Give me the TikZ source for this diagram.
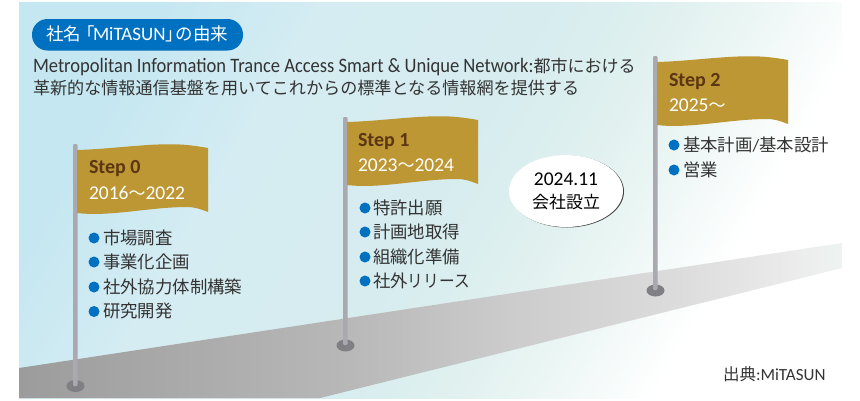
\documentclass[tikz,border=0pt]{standalone}
\usepackage{fontspec}
\usepackage{graphicx}
\usetikzlibrary{shapes.geometric}
\setmainfont{Carlito}
\newfontfamily\lat{Carlito}
\newfontfamily\jp{Noto Sans CJK JP}
\definecolor{brandblue}{HTML}{0070C0}
\definecolor{flaggold}{HTML}{BD9734}
\definecolor{flagbrown}{HTML}{5C3512}
\definecolor{polegrey}{HTML}{A9A9AF}
\definecolor{basegrey}{HTML}{808084}
\definecolor{inktext}{HTML}{333333}
\definecolor{skyA}{HTML}{C5E7F1}
\definecolor{skyB}{HTML}{D5ECF2}
\definecolor{skyC}{HTML}{D6ECEF}
\definecolor{skyD}{HTML}{DFF0EF}
\definecolor{skyE}{HTML}{EBF6F4}
\definecolor{roadA}{HTML}{9C9C9C}
\definecolor{roadB}{HTML}{B8B8B8}
\definecolor{roadC}{HTML}{CCCCCC}
\definecolor{roadD}{HTML}{DCDCDC}
\definecolor{roadE}{HTML}{EBEBEB}
\definecolor{roadF}{HTML}{EEF3F1}
\pgfdeclarehorizontalshading{skyfade}{100bp}{
  color(0bp)=(skyA); color(25bp)=(skyA);
  color(36bp)=(skyB); color(50bp)=(skyC);
  color(58bp)=(skyD); color(64bp)=(skyE);
  color(72bp)=(white); color(100bp)=(white)}
\pgfdeclarehorizontalshading{roadfade}{100bp}{
  color(0bp)=(roadA); color(25bp)=(roadA);
  color(45bp)=(roadB); color(55bp)=(roadC);
  color(65bp)=(roadD); color(72bp)=(roadE);
  color(75bp)=(roadF); color(100bp)=(roadF)}
\tikzset{
  x=1pt,y=-1pt,
  txt/.style={anchor=base west,inner sep=0pt,outer sep=0pt,font=\fontsize{20.5}{22}\selectfont,text=inktext},
  itemtxt/.style={txt,font=\fontsize{17.4}{20}\selectfont\jp},
  steptxt/.style={txt,font=\fontsize{20}{22}\selectfont\bfseries,text=flagbrown},
  yeartxt/.style={txt,font=\fontsize{19.5}{22}\selectfont,text=white},
  bullet/.style={circle,fill=brandblue,minimum size=11pt,inner sep=0pt},
  pole/.style={fill=polegrey,rounded corners=1.2pt},
  polebase/.style={ellipse,fill=basegrey,minimum width=18pt,minimum height=12pt,inner sep=0pt},
  pics/wavyflag/.style={code={
    \fill[flaggold] (77,150) .. controls (115,149) and (155,142) .. (187,145)
      .. controls (196,146) and (203,147) .. (208,148) -- (208,212)
      .. controls (200,209) and (195,207) .. (187,207)
      .. controls (150,207) and (110,217) .. (77,213) -- cycle;
  }}
}
\begin{document}
\begin{tikzpicture}
\useasboundingbox (0,0) rectangle (860,400);
% sky and road
\path[shading=skyfade,shading angle=-30] (19,2) rectangle (842,398);
\path[shading=roadfade] (19,368) -- (842,243) -- (842,268) -- (320,398) -- (19,398) -- cycle;

% poles with their footings
\node[polebase] (base0) at (75.5,386) {};
\node[polebase] (base1) at (345.5,345.5) {};
\node[polebase] (base2) at (655.5,290.5) {};
\fill[pole] (73,144) rectangle (77.5,386);
\fill[pole] (343,117) rectangle (347.5,345);
\fill[pole] (653,56) rectangle (657.5,290);

% flags
\pic at (0,0) {wavyflag};
\pic at (270,-28) {wavyflag};
\pic at (580,-88) {wavyflag};

% title pill
\fill[brandblue,rounded corners=15.5pt] (32,19) rectangle (243,50.5);
\node[txt,text=white,font=\fontsize{19}{20}\selectfont] (title) at (46,40.5)
  {{\jp\fontsize{17.5}{20}\selectfont 社名\hspace{-3.5pt}「\hspace{-2pt}}MiTASUN{\jp\fontsize{17.5}{20}\selectfont 」\hspace{-7.5pt}の由来}};

% description
\node[txt] (descA) at (33,72.5) {\scalebox{0.905}[1]{Metropolitan Information Trance Access Smart \& Unique Network:}{\jp\fontsize{17}{20}\selectfont 都市における}};
\node[txt,font=\fontsize{17.1}{20}\selectfont\jp] (descB) at (33,94) {革新的な情報通信基盤を用いてこれからの標準となる情報網を提供する};

% step 0
\node[steptxt] (stepA) at (89,173) {Step 0};
\node[yeartxt] (yearA) at (89,199) {2016{\jp\fontsize{17}{20}\selectfont ～}2022};
\node[bullet] (b01) at (94,238) {};
\node[bullet] (b02) at (94,262) {};
\node[bullet] (b03) at (94,287) {};
\node[bullet] (b04) at (94,311.5) {};
\node[itemtxt] (i01) at (103,244) {市場調査};
\node[itemtxt] (i02) at (103,268.5) {事業化企画};
\node[itemtxt] (i03) at (103,293) {社外協力体制構築};
\node[itemtxt] (i04) at (103,317.5) {研究開発};

% step 1
\node[steptxt] (stepB) at (358,146) {Step 1};
\node[yeartxt] (yearB) at (358,171) {2023{\jp\fontsize{17}{20}\selectfont ～}2024};
\node[bullet] (b11) at (365,208) {};
\node[bullet] (b12) at (365,232) {};
\node[bullet] (b13) at (365,257) {};
\node[bullet] (b14) at (365,281) {};
\node[itemtxt] (i11) at (373,214) {特許出願};
\node[itemtxt] (i12) at (373,238.5) {計画地取得};
\node[itemtxt] (i13) at (373,263) {組織化準備};
\node[itemtxt] (i14) at (373,287.5) {社外\scalebox{0.9}[1]{リリース}};

% step 2
\node[steptxt] (stepC) at (669,86) {Step 2};
\node[yeartxt] (yearC) at (669,111) {2025{\jp\fontsize{17}{20}\selectfont ～}};
\node[bullet] (b21) at (674,145) {};
\node[bullet] (b22) at (674,170) {};
\node[itemtxt] (i21) at (683,151) {基本計画{\lat/}基本設計};
\node[itemtxt] (i22) at (683,176) {営業};

% founding date bubble
\fill[black!75] (567,191.5) ellipse [x radius=57,y radius=36];
\fill[white] (566,191) ellipse [x radius=57,y radius=36];
\node[txt,anchor=base,text=black,font=\fontsize{19.5}{22}\selectfont] (dateA) at (566,185.5) {2024.11};
\node[txt,anchor=base,text=black,font=\fontsize{17}{20}\selectfont\jp] (dateB) at (566,208) {会社設立};

% source
\node[txt,font=\fontsize{17}{20}\selectfont] (source) at (723,380.5) {{\jp\fontsize{16.5}{20}\selectfont 出典}:MiTASUN};
\end{tikzpicture}
\end{document}
